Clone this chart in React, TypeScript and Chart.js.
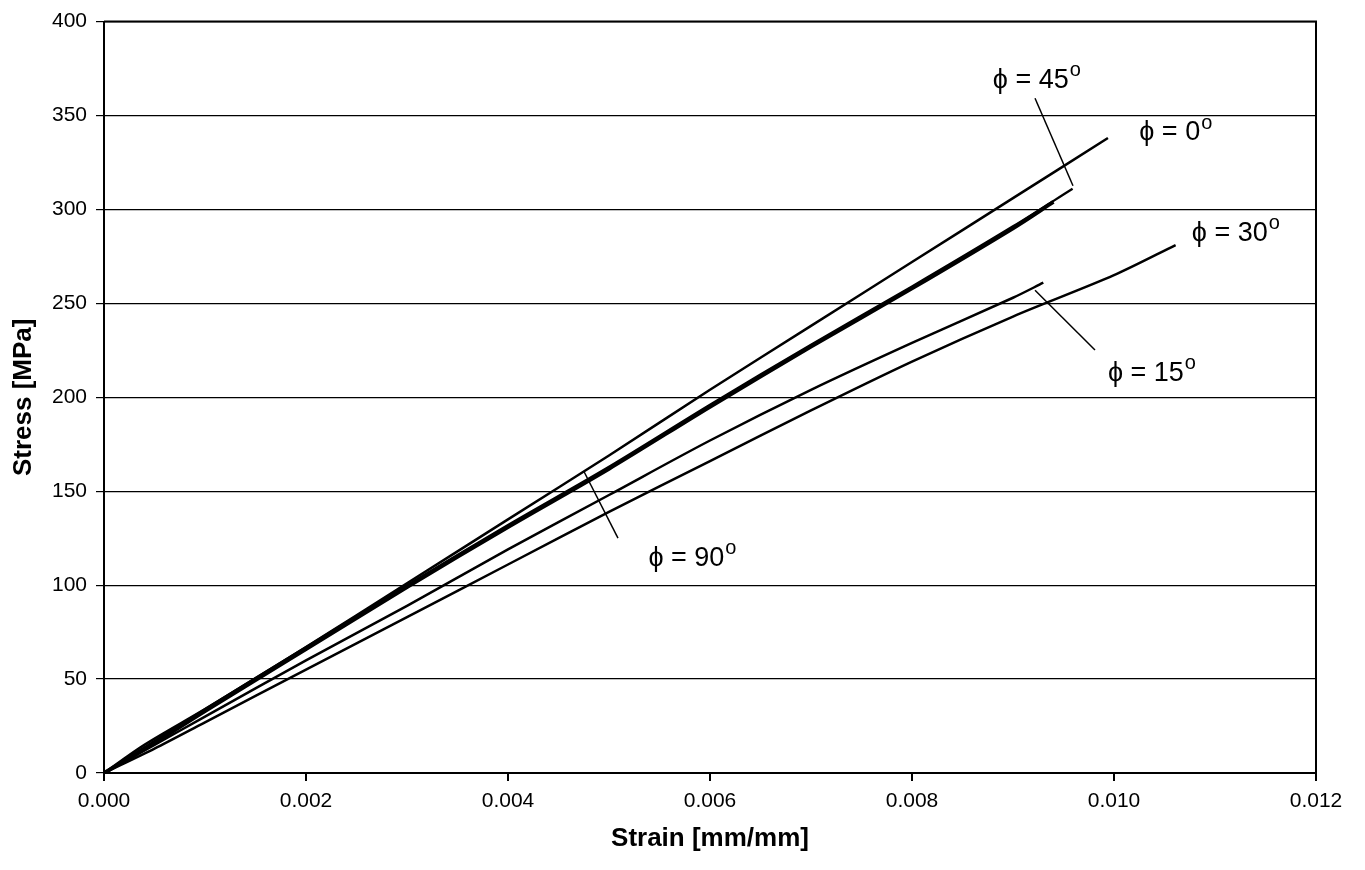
import React, { useEffect, useRef } from "react";
import { Chart, registerables } from "chart.js";

Chart.register(...registerables);

// ---- Data (strain [mm/mm], stress [MPa]) ----
const strain0 = [0, 0.0004, 0.001, 0.002, 0.003, 0.004, 0.005, 0.006, 0.007, 0.008, 0.009, 0.00994];
const stress0 = [0, 15, 34, 67, 101, 135, 169, 204, 238, 272, 306, 338];

const strain45 = [0, 0.0005, 0.001, 0.002, 0.003, 0.004, 0.005, 0.006, 0.007, 0.008, 0.009, 0.00959];
const stress45 = [0, 17, 34, 67, 100, 132, 163, 196, 228, 259, 291, 311];

const strain90 = [0, 0.0005, 0.001, 0.002, 0.003, 0.004, 0.005, 0.006, 0.007, 0.008, 0.009, 0.0094];
const stress90 = [0, 16, 33, 66, 99, 131, 162, 195, 227, 258, 290, 304];

const strain15 = [0, 0.0005, 0.001, 0.002, 0.003, 0.004, 0.005, 0.006, 0.007, 0.008, 0.009, 0.0093];
const stress15 = [0, 15, 30, 60, 89, 119, 148, 177, 204, 229, 253, 261];

const strain30 = [0, 0.0005, 0.001, 0.002, 0.003, 0.004, 0.005, 0.006, 0.007, 0.008, 0.009, 0.01, 0.01061];
const stress30 = [0, 13, 27, 55, 83, 111, 139, 166, 193, 219, 243, 265, 281];

const seriesNames = ["ϕ = 0", "ϕ = 45", "ϕ = 90", "ϕ = 15", "ϕ = 30"];

// ---- Annotation labels (text, strain, stress of the left/middle anchor) ----
const labelTexts = ["ϕ = 45", "ϕ = 0", "ϕ = 30", "ϕ = 15", "ϕ = 90"];
const labelStrain = [0.0088, 0.01025, 0.01077, 0.00994, 0.00539];
const labelStress = [368.7, 340.7, 287.2, 212.5, 114.4];

// ---- Leader lines (from -> to, in data units) ----
const leaderStrainFrom = [0.009218, 0.009218, 0.004752];
const leaderStressFrom = [359.2, 257.0, 160.5];
const leaderStrainTo = [0.009594, 0.009812, 0.005089];
const leaderStressTo = [312.6, 225.2, 125.0];

// ---- Axis ticks ----
const xMin = 0, xMax = 0.012, xStep = 0.002;
const yMin = 0, yMax = 400, yStep = 50;

const toPts = (xs: number[], ys: number[]) => xs.map((x, i) => ({ x, y: ys[i] }));

const FONT = "'Liberation Sans', Arial, 'DejaVu Sans', sans-serif";

const annotationPlugin = {
  id: "annotations",
  afterDatasetsDraw(chart: any) {
    const { ctx, scales, chartArea } = chart;
    const xs = scales.x, ys = scales.y;
    ctx.save();
    // frame (top & right border)
    ctx.strokeStyle = "#000";
    ctx.lineWidth = 2;
    ctx.beginPath();
    ctx.moveTo(chartArea.left, chartArea.top);
    ctx.lineTo(chartArea.right, chartArea.top);
    ctx.lineTo(chartArea.right, chartArea.bottom);
    ctx.stroke();

    // leaders
    ctx.lineWidth = 1.5;
    for (let i = 0; i < leaderStrainFrom.length; i++) {
      ctx.beginPath();
      ctx.moveTo(xs.getPixelForValue(leaderStrainFrom[i]), ys.getPixelForValue(leaderStressFrom[i]));
      ctx.lineTo(xs.getPixelForValue(leaderStrainTo[i]), ys.getPixelForValue(leaderStressTo[i]));
      ctx.stroke();
    }
    // labels
    ctx.fillStyle = "#000";
    ctx.textBaseline = "middle";
    ctx.textAlign = "left";
    for (let i = 0; i < labelTexts.length; i++) {
      const px = xs.getPixelForValue(labelStrain[i]);
      const py = ys.getPixelForValue(labelStress[i]);
      ctx.font = `27px ${FONT}`;
      ctx.fillText(labelTexts[i], px, py);
      const w = ctx.measureText(labelTexts[i]).width;
      ctx.font = `20px ${FONT}`;
      ctx.fillText("o", px + w + 1, py - 10);
    }
    ctx.restore();
  },
};

export default function App() {
  const canvasRef = useRef<HTMLCanvasElement | null>(null);

  useEffect(() => {
    document.body.style.margin = "0";
    const canvas = canvasRef.current;
    if (!canvas) return;
    const mk = (label: string, xs: number[], ys: number[], w: number) => ({
      label,
      data: toPts(xs, ys),
      showLine: true,
      borderColor: "#000",
      backgroundColor: "#000",
      borderWidth: w,
      pointRadius: 0,
      tension: 0.3,
      fill: false,
    });
    const chart = new Chart(canvas, {
      type: "scatter",
      data: {
        datasets: [
          mk(seriesNames[0], strain0, stress0, 2.5),
          mk(seriesNames[1], strain45, stress45, 2.3),
          mk(seriesNames[2], strain90, stress90, 4),
          mk(seriesNames[3], strain15, stress15, 2.5),
          mk(seriesNames[4], strain30, stress30, 2.5),
        ],
      },
      options: {
        animation: false,
        responsive: false,
        maintainAspectRatio: false,
        layout: { padding: { left: 0, top: 17, right: 49, bottom: 0 } },
        plugins: { legend: { display: false }, tooltip: { enabled: false } },
        scales: {
          x: {
            type: "linear",
            min: xMin,
            max: xMax,
            afterFit: (s: any) => { s.height = 97; },
            ticks: {
              stepSize: xStep,
              callback: (v: any) => Number(v).toFixed(3),
              font: { family: FONT, size: 21 },
              color: "#000",
              padding: 8,
              maxRotation: 0,
            },
            grid: { drawOnChartArea: false, drawTicks: true, tickLength: 8, color: "#000", lineWidth: 2 },
            border: { display: true, color: "#000", width: 2 },
            title: {
              display: true,
              text: "Strain [mm/mm]",
              font: { family: FONT, size: 26, weight: "bold" },
              color: "#000",
              padding: { top: 0, bottom: 16 },
            },
          },
          y: {
            type: "linear",
            min: yMin,
            max: yMax,
            afterFit: (s: any) => { s.width = 104; },
            ticks: {
              stepSize: yStep,
              font: { family: FONT, size: 21 },
              color: "#000",
              padding: 9,
            },
            grid: { color: "#000", lineWidth: 1.2, tickLength: 8, drawTicks: true },
            border: { display: true, color: "#000", width: 2 },
            title: {
              display: true,
              text: "Stress [MPa]",
              font: { family: FONT, size: 26, weight: "bold" },
              color: "#000",
              padding: { top: 8, bottom: 0 },
            },
          },
        },
      },
      plugins: [annotationPlugin],
    });
    return () => chart.destroy();
  }, []);

  return (
    <div style={{ width: 1365, height: 870, background: "#fff" }}>
      <canvas ref={canvasRef} width={1365} height={870} style={{ display: "block" }} />
    </div>
  );
}
